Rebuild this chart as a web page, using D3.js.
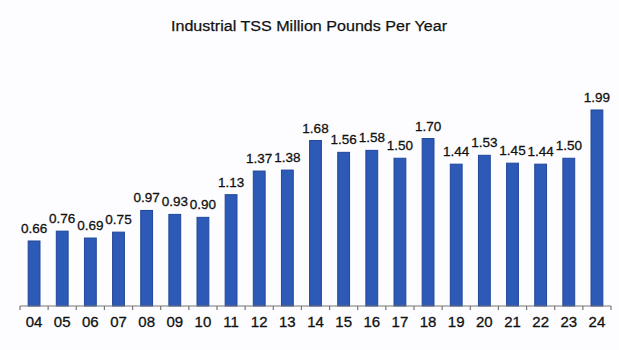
<!DOCTYPE html>
<html><head><meta charset="utf-8">
<script src="https://cdn.jsdelivr.net/npm/d3@7/dist/d3.min.js"></script>
<style>body{margin:0;background:#fdfdff}svg{display:block}</style>
</head><body><svg id="c" width="619" height="350"></svg>
<script>
const title = "Industrial TSS Million Pounds Per Year";
const years = ["04","05","06","07","08","09","10","11","12","13","14","15","16","17","18","19","20","21","22","23","24"];
const values = [0.66,0.76,0.69,0.75,0.97,0.93,0.90,1.13,1.37,1.38,1.68,1.56,1.58,1.50,1.70,1.44,1.53,1.45,1.44,1.50,1.99];
const labels = ["0.66","0.76","0.69","0.75","0.97","0.93","0.90","1.13","1.37","1.38","1.68","1.56","1.58","1.50","1.70","1.44","1.53","1.45","1.44","1.50","1.99"];

const svg = d3.select("#c");
const x = d3.scaleBand().domain(years).range([20, 611]).paddingInner(0.58).paddingOuter(0.29);
const y = d3.scaleLinear().domain([0, 2]).range([306, 109]);
const font = "Liberation Sans, Arial, sans-serif";

svg.append("text").attr("x", 309).attr("y", 31).attr("text-anchor", "middle")
  .attr("font-family", font).attr("font-size", 15.5)
  .attr("textLength", 276).attr("lengthAdjust", "spacingAndGlyphs")
  .attr("fill", "#111").attr("stroke", "#111").attr("stroke-width", 0.25).text(title);

svg.selectAll("rect.bar").data(values).enter().append("rect").attr("class", "bar")
  .attr("x", (d, i) => x(years[i])).attr("width", x.bandwidth())
  .attr("y", d => y(d)).attr("height", d => y(0) - y(d))
  .attr("fill", "#2c5ab6").attr("stroke", "#21469a").attr("stroke-width", 1);

svg.selectAll("text.lbl").data(values).enter().append("text").attr("class", "lbl")
  .attr("x", (d, i) => x(years[i]) + x.bandwidth() / 2).attr("y", d => y(d) - 8)
  .attr("text-anchor", "middle").attr("font-family", font)
  .attr("font-size", 13.5).attr("fill", "#111").attr("stroke", "#111").attr("stroke-width", 0.3)
  .text((d, i) => labels[i]);

// axis
const ax = svg.append("g").attr("transform", "translate(0,306)");
ax.append("line").attr("x1", 20).attr("x2", 611).attr("stroke", "#777").attr("stroke-width", 1.2);
const bounds = d3.range(years.length + 1).map(i => 20 + i * (591 / years.length));
ax.selectAll("line.t").data(bounds).enter().append("line").attr("class", "t")
  .attr("x1", d => d).attr("x2", d => d).attr("y1", 0).attr("y2", 4)
  .attr("stroke", "#777").attr("stroke-width", 1.2);
ax.selectAll("text").data(years).enter().append("text")
  .attr("x", d => x(d) + x.bandwidth() / 2).attr("y", 21).attr("text-anchor", "middle")
  .attr("font-family", font).attr("font-size", 15)
  .attr("fill", "#111").attr("stroke", "#111").attr("stroke-width", 0.3).text(d => d);
</script></body></html>
